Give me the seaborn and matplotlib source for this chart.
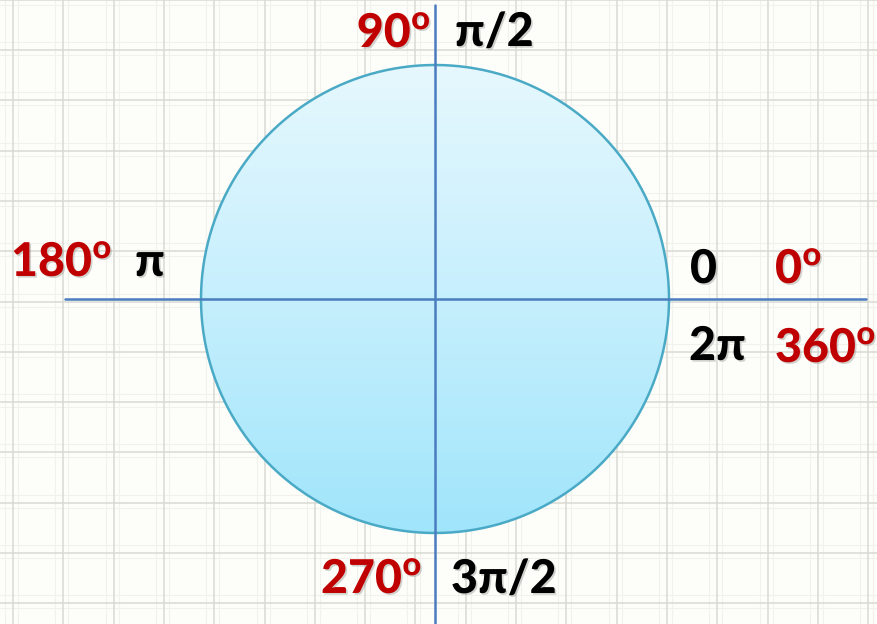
import numpy as np
import matplotlib
matplotlib.use("Agg")
import matplotlib.pyplot as plt
import matplotlib.patheffects as pe
from matplotlib.patches import Circle
from matplotlib.colors import LinearSegmentedColormap
import seaborn as sns
import pandas as pd

# ---- data ----
angles_deg = [0, 90, 180, 270, 360]
deg_labels = ["0", "90", "180", "270", "360"]
rad_labels = ["0", "π/2", "π", "3π/2", "2π"]
radius = 1.0

sns.set_style("white")
plt.rcParams['font.family'] = ['Lato', 'DejaVu Sans']
plt.rcParams['mathtext.fontset'] = 'custom'
plt.rcParams['mathtext.bf'] = 'Lato:black'
plt.rcParams['mathtext.rm'] = 'Lato:black'

PX = 234.0      # pixels per unit
CX, CY = 435.0, 299.0
W, H = 878, 624

def X(px):
    return (px - CX) / PX

def Y(py):
    return (CY - py) / PX

fig = plt.figure(figsize=(W / 100, H / 100), dpi=100)
fig.patch.set_facecolor('#fdfdf9')
ax = fig.add_axes([0, 0, 1, 1])
ax.set_facecolor('#fdfdf9')

# graph-paper grid
step = 50.3
maj_x = [X(13 + step * k) for k in range(-1, 19)]
maj_y = [Y(50 + step * k) for k in range(-1, 13)]
min_x = [X(13 + step * k + d) for k in range(-1, 19) for d in (-8, 5)]
min_y = [Y(50 + step * k + d) for k in range(-1, 13) for d in (-8, 5)]
for v in min_x:
    ax.axvline(v, color='#f2f2ed', lw=0.8, zorder=0)
for v in min_y:
    ax.axhline(v, color='#f2f2ed', lw=0.8, zorder=0)
for v in maj_x:
    ax.axvline(v, color='#dadad4', lw=1.1, zorder=0.5)
for v in maj_y:
    ax.axhline(v, color='#dadad4', lw=1.1, zorder=0.5)

# gradient filled circle
cmap = LinearSegmentedColormap.from_list('g', ['#e6f8fe', '#c6effd', '#a0e5fb'])
grad = np.linspace(0, 1, 256).reshape(-1, 1)
im = ax.imshow(grad, cmap=cmap, extent=(-radius, radius, -radius, radius),
               origin='upper', aspect='auto', zorder=1)
clip = Circle((0, 0), radius, transform=ax.transData)
im.set_clip_path(clip)

theta = np.linspace(0, 2 * np.pi, 721)
df = pd.DataFrame({'x': radius * np.cos(theta), 'y': radius * np.sin(theta)})
sns.lineplot(data=df, x='x', y='y', sort=False, ax=ax, color='#4aaac6',
             lw=1.8, zorder=2, estimator=None)

# axes lines
ax.plot([X(65), X(866)], [0, 0], color='#4a7dbf', lw=1.8, zorder=3)
ax.plot([0, 0], [Y(5), Y(H)], color='#4a7dbf', lw=1.8, zorder=3)

ax.set_xlim(X(0), X(W))
ax.set_ylim(Y(H), Y(0))
ax.set_axis_off()

shadow = [pe.withSimplePatchShadow(offset=(1.2, -1.2), shadow_rgbFace='#808080', alpha=0.35)]
fs = 33.5
RED = '#c00000'

# label layout (pixel positions of text anchors)
deg_pos = {0: (775, 283, 'left'), 90: (431, 47, 'right'), 180: (11, 276, 'left'),
           270: (321, 593, 'left'), 360: (775, 362, 'left')}
rad_pos = {0: (690, 283, 'left'), 90: (455, 46, 'left'), 180: (135, 276, 'left'),
           270: (451, 593, 'left'), 360: (689, 360, 'left')}

for a, dl, rl in zip(angles_deg, deg_labels, rad_labels):
    px, py, ha = deg_pos[a]
    ax.text(X(px), Y(py), dl + r"$^{\mathbf{o}}$", color=RED, fontsize=fs,
            fontweight='black', ha=ha, va='baseline', path_effects=shadow, zorder=5)
    px, py, ha = rad_pos[a]
    ax.text(X(px), Y(py), rl, color='black', fontsize=fs, fontweight='black',
            ha=ha, va='baseline', path_effects=shadow, zorder=5)

fig.savefig('out.png', dpi=100, facecolor=fig.get_facecolor())
